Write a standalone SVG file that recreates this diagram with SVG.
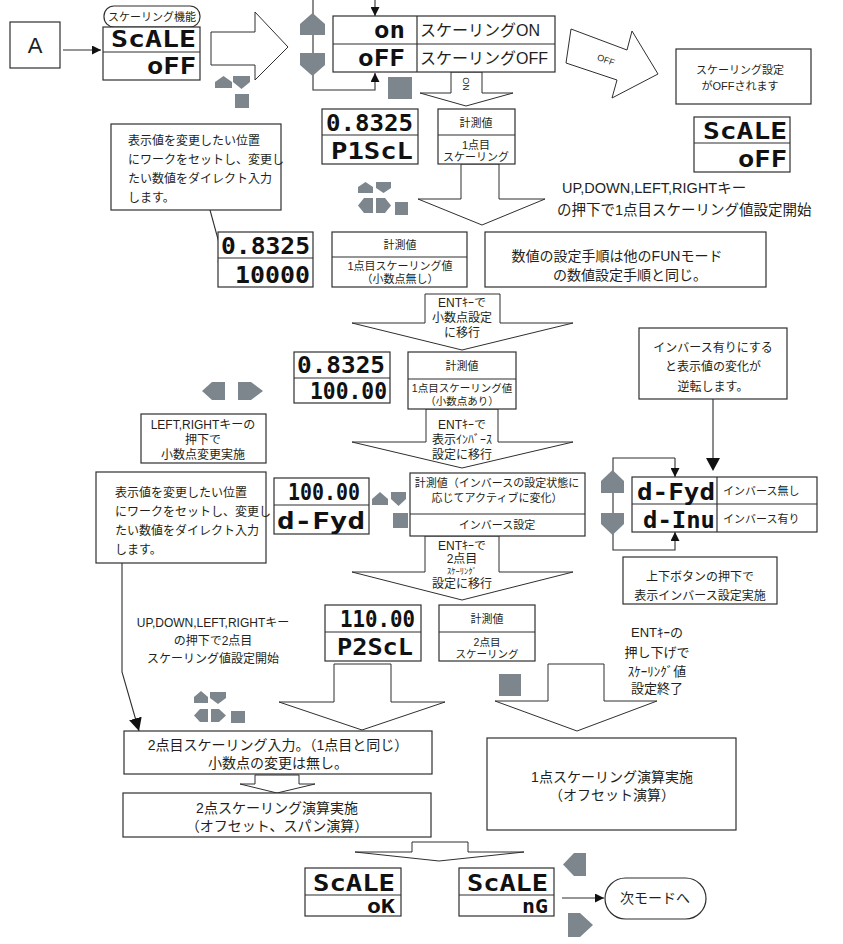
<svg xmlns="http://www.w3.org/2000/svg" width="843" height="944" viewBox="0 0 843 944">
<defs>
<style>
.bx{fill:#fff;stroke:#2f2f2f;stroke-width:1.2}
.dv{fill:none;stroke:#2f2f2f;stroke-width:1.2}
.ln{fill:none;stroke:#2f2f2f;stroke-width:1.1}
.gl{fill:none;stroke:#6f6f6f;stroke-width:1.6}
.ba{fill:#fff;stroke:#2f2f2f;stroke-width:1}
.key{fill:#7e868d}
.t{font-family:"Liberation Sans","Noto Sans CJK JP",sans-serif;fill:#231f20}
.c{text-anchor:middle}
.s8{font-size:8.5px}.s9{font-size:9px}.s10{font-size:10.5px}.s11{font-size:11px}.s12{font-size:12px}
.s13{font-size:13px}.s14{font-size:14px}.s15{font-size:14.5px}.s16{font-size:16px}.s22{font-size:22px}
.seg{font-family:"DejaVu Sans Mono",monospace;font-weight:bold;fill:#111;font-size:23px}
.sg2{font-size:20px}
</style>
<marker id="ah" viewBox="0 0 10 10" refX="10" refY="5" markerWidth="9" markerHeight="9" markerUnits="userSpaceOnUse" orient="auto"><path d="M0,0 L10,5 L0,10 z" fill="#111"/></marker>
<marker id="ahb" viewBox="0 0 10 10" refX="10" refY="5" markerWidth="13" markerHeight="13" markerUnits="userSpaceOnUse" orient="auto"><path d="M0,0 L10,5 L0,10 z" fill="#111"/></marker>
</defs>
<rect width="843" height="944" fill="#fff"/>

<!-- block arrows -->
<g id="block-arrows">
<polygon class="ba" points="211,32 255,32 255,12 288,47 255,80 255,65 211,65"/>
<polygon class="ba" points="451,72 482,72 482,93 513,93 466,106 420,93 451,93"/>
<text class="t s9" transform="rotate(90 466 84)" x="466" y="87" text-anchor="middle">ON</text>
<polygon class="ba" points="571,29 627,50 632,31 658,74 612,98 617,80 566,63"/>
<text class="t s9" transform="rotate(20 606 60)" x="606" y="63" text-anchor="middle">OFF</text>
<polygon class="ba" points="461,164 499,164 499,199 545,199 482,225 418,199 461,199"/>
<polygon class="ba" points="425,294 500,294 500,323 573,323 462,350 352,323 425,323"/>
<text class="t c s12" x="462" y="307">ENTｷｰで</text>
<text class="t c s12" x="462" y="322">小数点設定</text>
<text class="t c s12" x="462" y="337">に移行</text>
<polygon class="ba" points="426,409 498,409 498,442 573,442 462,468 352,442 426,442"/>
<text class="t c s12" x="462" y="429">ENTｷｰで</text>
<text class="t c s12" x="462" y="444">表示ｲﾝﾊﾞｰｽ</text>
<text class="t c s12" x="462" y="459">設定に移行</text>
<polygon class="ba" points="425,536 499,536 499,572 573,572 462,600 352,572 425,572"/>
<text class="t c s12" x="462" y="550">ENTｷｰで</text>
<text class="t c s12" x="462" y="563">2点目</text>
<text class="t c s8" x="462" y="574">ｽｹｰﾘﾝｸﾞ</text>
<text class="t c s12" x="462" y="588">設定に移行</text>
<polygon class="ba" points="334,664 391,664 391,702 445,702 362,730 279,702 334,702"/>
<polygon class="ba" points="548,664 604,664 604,701 657,701 577,731 495,701 548,701"/>
<polygon class="ba" points="255,775 299,775 299,784 315,784 277,793 240,784 255,784"/>
<polygon class="ba" points="412,842 468,842 468,852 524,852 439,861 355,852 412,852"/>
</g>

<!-- connectors -->
<g id="connectors">
<line class="ln" x1="63" y1="50" x2="101" y2="50" marker-end="url(#ah)"/>
<line class="ln" x1="375" y1="0" x2="375" y2="16" marker-end="url(#ah)"/>
<polyline class="ln" points="313,0 313,90 375,90 375,73" marker-end="url(#ah)"/>
<line class="ln" x1="210" y1="210" x2="227" y2="272" marker-end="url(#ahb)"/>
<polyline class="ln" points="122,563 122,672 139,731" marker-end="url(#ahb)"/>
<line class="gl" x1="713" y1="399" x2="713" y2="460"/>
<path d="M706,458 L720,458 L713,471 z" fill="#111"/>
<polyline class="ln" points="675,458 613,458 613,550 675,550 675,532" marker-end="url(#ah)"/>
<polyline class="ln" points="675,458 675,477" marker-end="url(#ah)"/>
<line class="ln" x1="562" y1="898" x2="604" y2="898" marker-end="url(#ah)"/>
</g>

<!-- keys -->
<g id="keys">
<polygon class="key" points="215,88 215,82 223.5,76 232,82 232,88"/>
<polygon class="key" points="233,76 250,76 250,82 241.5,89 233,82"/>
<rect class="key" x="235" y="94" width="14" height="14"/>
<polygon class="key" points="300,35 300,24 312.5,13 325,24 325,35"/>
<polygon class="key" points="300,53 325,53 325,65 312.5,76 300,65"/>
<rect class="key" x="388" y="77" width="24" height="22"/>
<polygon class="key" points="358,193 358,187 365.5,182 373,187 373,193"/>
<polygon class="key" points="376,182 391,182 391,188 383.5,193 376,188"/>
<polygon class="key" points="373,198 373,213 364,213 358,205.5 364,198"/>
<polygon class="key" points="376,198 385,198 391,205.5 385,213 376,213"/>
<rect class="key" x="395" y="202" width="13" height="13"/>
<polygon class="key" points="225,382 225,400 212,400 202,391 212,382"/>
<polygon class="key" points="238,382 251,382 263,391 251,400 238,400"/>
<polygon class="key" points="372,505 372,499 380,492 388,499 388,505"/>
<polygon class="key" points="391,492 406,492 406,499 398.5,506 391,499"/>
<rect class="key" x="393" y="513" width="15" height="15"/>
<polygon class="key" points="601,493 601,481 612.5,470 624,481 624,493"/>
<polygon class="key" points="601,513 624,513 624,524 612.5,535 601,524"/>
<polygon class="key" points="194,703 194,697 201,691 208,697 208,703"/>
<polygon class="key" points="210,692 226,692 226,698 218,704 210,698"/>
<polygon class="key" points="208,709 208,722 200,722 194,715.5 200,709"/>
<polygon class="key" points="211,709 219,709 226,715.5 219,722 211,722"/>
<rect class="key" x="231" y="711" width="14" height="12"/>
<rect class="key" x="499" y="674" width="22" height="22"/>
<polygon class="key" points="586,853 586,876 574,876 563,864.5 574,853"/>
<polygon class="key" points="568,913 580,913 593,925 580,937 568,937"/>
</g>

<!-- nodes -->
<g id="node-a">
<rect class="bx" x="10" y="22" width="50" height="46"/>
<text class="t c s22" x="35" y="53">A</text>
</g>

<g id="node-scale-off">
<rect class="bx" x="104" y="6" width="96" height="21" rx="10"/>
<text class="t c s11" x="152" y="21">スケーリング機能</text>
<rect class="bx" x="103" y="27" width="97" height="53"/>
<line class="dv" x1="103" y1="52" x2="200" y2="52"/>
<text class="seg" x="111" y="47" textLength="85" lengthAdjust="spacingAndGlyphs">ScALE</text>
<text class="seg" x="147" y="74" textLength="49" lengthAdjust="spacingAndGlyphs">oFF</text>
</g>

<g id="node-onoff">
<rect class="bx" x="333" y="16" width="222" height="56"/>
<line class="dv" x1="333" y1="44" x2="555" y2="44"/>
<line class="dv" x1="417" y1="16" x2="417" y2="72"/>
<text class="seg" x="374" y="38" textLength="31" lengthAdjust="spacingAndGlyphs">on</text>
<text class="seg" x="358" y="66" textLength="47" lengthAdjust="spacingAndGlyphs">oFF</text>
<text class="t s16" x="420" y="36">スケーリングON</text>
<text class="t s16" x="420" y="64">スケーリングOFF</text>
</g>

<g id="node-off-note">
<rect class="bx" x="676" y="49" width="135" height="55"/>
<text class="t c s11" x="740" y="74">スケーリング設定</text>
<text class="t c s11" x="740" y="90">がOFFされます</text>
</g>

<g id="node-scale-off-2">
<rect class="bx" x="694" y="117" width="96" height="55"/>
<line class="dv" x1="694" y1="143" x2="790" y2="143"/>
<text class="seg" x="703" y="139" textLength="84" lengthAdjust="spacingAndGlyphs">ScALE</text>
<text class="seg" x="738" y="167" textLength="49" lengthAdjust="spacingAndGlyphs">oFF</text>
</g>

<g id="node-p1scl">
<rect class="bx" x="322" y="109" width="96" height="55"/>
<line class="dv" x1="322" y1="135" x2="418" y2="135"/>
<text class="seg" x="326" y="131" textLength="87" lengthAdjust="spacingAndGlyphs">0.8325</text>
<text class="seg" x="331" y="159" textLength="82" lengthAdjust="spacingAndGlyphs">P1ScL</text>
</g>

<g id="node-meas-1">
<rect class="bx" x="438" y="109" width="77" height="55"/>
<line class="dv" x1="438" y1="135" x2="515" y2="135"/>
<text class="t c s11" x="476" y="127">計測値</text>
<text class="t c s11" x="476" y="149">1点目</text>
<text class="t c s11" x="476" y="161">スケーリング</text>
</g>

<g id="node-note-1">
<rect class="bx" x="111" y="124" width="170" height="86"/>
<text class="t s12" x="128" y="145">表示値を変更したい位置</text>
<text class="t s12" x="128" y="164">にワークをセットし、変更し</text>
<text class="t s12" x="128" y="183">たい数値をダイレクト入力</text>
<text class="t s12" x="128" y="202">します。</text>
</g>

<g id="node-start-1">
<text class="t s15" x="562" y="193">UP,DOWN,LEFT,RIGHTキー</text>
<text class="t s15" x="557" y="215">の押下で1点目スケーリング値設定開始</text>
</g>

<g id="node-10000">
<rect class="bx" x="218" y="232" width="95" height="55"/>
<line class="dv" x1="218" y1="258" x2="313" y2="258"/>
<text class="seg" x="221" y="254" textLength="89" lengthAdjust="spacingAndGlyphs">0.8325</text>
<text class="seg" x="235" y="283" textLength="75" lengthAdjust="spacingAndGlyphs">10000</text>
</g>

<g id="node-meas-2">
<rect class="bx" x="332" y="232" width="135" height="55"/>
<line class="dv" x1="332" y1="257" x2="467" y2="257"/>
<text class="t c s11" x="400" y="249">計測値</text>
<text class="t c s11" x="400" y="270">1点目スケーリング値</text>
<text class="t c s11" x="400" y="283">（小数点無し）</text>
</g>

<g id="node-proc-note">
<rect class="bx" x="485" y="232" width="281" height="55"/>
<text class="t c s14" x="617" y="261">数値の設定手順は他のFUNモード</text>
<text class="t c s14" x="630" y="280">の数値設定手順と同じ。</text>
</g>

<g id="node-100-00">
<rect class="bx" x="294" y="352" width="96" height="51"/>
<line class="dv" x1="294" y1="378" x2="390" y2="378"/>
<text class="seg" x="297" y="373" textLength="88" lengthAdjust="spacingAndGlyphs">0.8325</text>
<text class="seg" x="310" y="399" textLength="77" lengthAdjust="spacingAndGlyphs">100.00</text>
</g>

<g id="node-meas-3">
<rect class="bx" x="408" y="352" width="108" height="57"/>
<line class="dv" x1="408" y1="379" x2="516" y2="379"/>
<text class="t c s11" x="462" y="370">計測値</text>
<text class="t c s10" x="462" y="392">1点目スケーリング値</text>
<text class="t c s10" x="462" y="405">（小数点あり）</text>
</g>

<g id="node-lr-note">
<rect class="bx" x="141" y="414" width="125" height="49"/>
<text class="t c s12" x="203" y="429">LEFT,RIGHTキーの</text>
<text class="t c s12" x="203" y="444">押下で</text>
<text class="t c s12" x="203" y="459">小数点変更実施</text>
</g>

<g id="node-note-2">
<rect class="bx" x="96" y="472" width="170" height="91"/>
<text class="t s12" x="115" y="497">表示値を変更したい位置</text>
<text class="t s12" x="115" y="516">にワークをセットし、変更し</text>
<text class="t s12" x="115" y="535">たい数値をダイレクト入力</text>
<text class="t s12" x="115" y="554">します。</text>
</g>

<g id="node-dfwd">
<rect class="bx" x="274" y="478" width="95" height="56"/>
<line class="dv" x1="274" y1="505" x2="369" y2="505"/>
<text class="seg" x="288" y="500" textLength="72" lengthAdjust="spacingAndGlyphs">100.00</text>
<text class="seg" x="277" y="529" textLength="88" lengthAdjust="spacingAndGlyphs">d-Fyd</text>
</g>

<g id="node-meas-inv">
<rect class="bx" x="410" y="473" width="175" height="63"/>
<line class="dv" x1="410" y1="514" x2="585" y2="514"/>
<text class="t c s11" x="497" y="487">計測値（インバースの設定状態に</text>
<text class="t c s11" x="497" y="502">応じてアクティブに変化）</text>
<text class="t c s11" x="497" y="529">インバース設定</text>
</g>

<g id="node-inv-note">
<rect class="bx" x="639" y="328" width="148" height="71"/>
<text class="t c s12" x="713" y="352">インバース有りにする</text>
<text class="t c s12" x="713" y="371">と表示値の変化が</text>
<text class="t c s12" x="713" y="391">逆転します。</text>
</g>

<g id="node-inv-table">
<rect class="bx" x="632" y="477" width="185" height="55"/>
<line class="dv" x1="632" y1="504" x2="817" y2="504"/>
<line class="dv" x1="717" y1="477" x2="717" y2="532"/>
<text class="seg" x="637" y="500" textLength="78" lengthAdjust="spacingAndGlyphs">d-Fyd</text>
<text class="seg" x="643" y="528" textLength="72" lengthAdjust="spacingAndGlyphs">d-Inu</text>
<text class="t s11" x="723" y="495">インバース無し</text>
<text class="t s11" x="723" y="523">インバース有り</text>
</g>

<g id="node-updown-note">
<rect class="bx" x="623" y="557" width="154" height="47"/>
<text class="t c s12" x="700" y="581">上下ボタンの押下で</text>
<text class="t c s12" x="700" y="600">表示インバース設定実施</text>
</g>

<g id="node-start-2">
<text class="t c s12" x="213" y="627">UP,DOWN,LEFT,RIGHTキー</text>
<text class="t c s12" x="213" y="645">の押下で2点目</text>
<text class="t c s12" x="213" y="663">スケーリング値設定開始</text>
</g>

<g id="node-p2scl">
<rect class="bx" x="325" y="605" width="96" height="56"/>
<line class="dv" x1="325" y1="632" x2="421" y2="632"/>
<text class="seg" x="340" y="627" textLength="75" lengthAdjust="spacingAndGlyphs">110.00</text>
<text class="seg" x="337" y="655" textLength="76" lengthAdjust="spacingAndGlyphs">P2ScL</text>
</g>

<g id="node-meas-4">
<rect class="bx" x="439" y="605" width="96" height="56"/>
<line class="dv" x1="439" y1="632" x2="535" y2="632"/>
<text class="t c s11" x="487" y="623">計測値</text>
<text class="t c s10" x="487" y="646">2点目</text>
<text class="t c s10" x="487" y="658">スケーリング</text>
</g>

<g id="node-ent-end">
<text class="t c s13" x="657" y="637">ENTｷｰの</text>
<text class="t c s13" x="657" y="657">押し下げで</text>
<text class="t c s13" x="657" y="676">ｽｹｰﾘﾝｸﾞ値</text>
<text class="t c s13" x="657" y="693">設定終了</text>
</g>

<g id="node-input-2">
<rect class="bx" x="124" y="731" width="308" height="43"/>
<text class="t c s14" x="278" y="750">2点目スケーリング入力。（1点目と同じ）</text>
<text class="t c s14" x="278" y="768">小数点の変更は無し。</text>
</g>

<g id="node-calc-1">
<rect class="bx" x="487" y="738" width="249" height="92"/>
<text class="t c s14" x="612" y="782">1点スケーリング演算実施</text>
<text class="t c s14" x="612" y="800">（オフセット演算）</text>
</g>

<g id="node-calc-2">
<rect class="bx" x="123" y="793" width="308" height="44"/>
<text class="t c s14" x="277" y="813">2点スケーリング演算実施</text>
<text class="t c s14" x="277" y="831">（オフセット、スパン演算）</text>
</g>

<g id="node-ok">
<rect class="bx" x="305" y="868" width="96" height="48"/>
<line class="dv" x1="305" y1="895" x2="401" y2="895"/>
<text class="seg" x="313" y="891" textLength="82" lengthAdjust="spacingAndGlyphs">ScALE</text>
<text class="seg sg2" x="367" y="913" textLength="28" lengthAdjust="spacingAndGlyphs">oK</text>
</g>

<g id="node-ng">
<rect class="bx" x="459" y="868" width="95" height="48"/>
<line class="dv" x1="459" y1="895" x2="554" y2="895"/>
<text class="seg" x="467" y="891" textLength="81" lengthAdjust="spacingAndGlyphs">ScALE</text>
<text class="seg sg2" x="522" y="913" textLength="26" lengthAdjust="spacingAndGlyphs">nG</text>
</g>

<g id="node-next">
<rect class="bx" x="605" y="878" width="101" height="41" rx="20.5"/>
<text class="t c s14" x="655" y="903">次モードへ</text>
</g>
</svg>
